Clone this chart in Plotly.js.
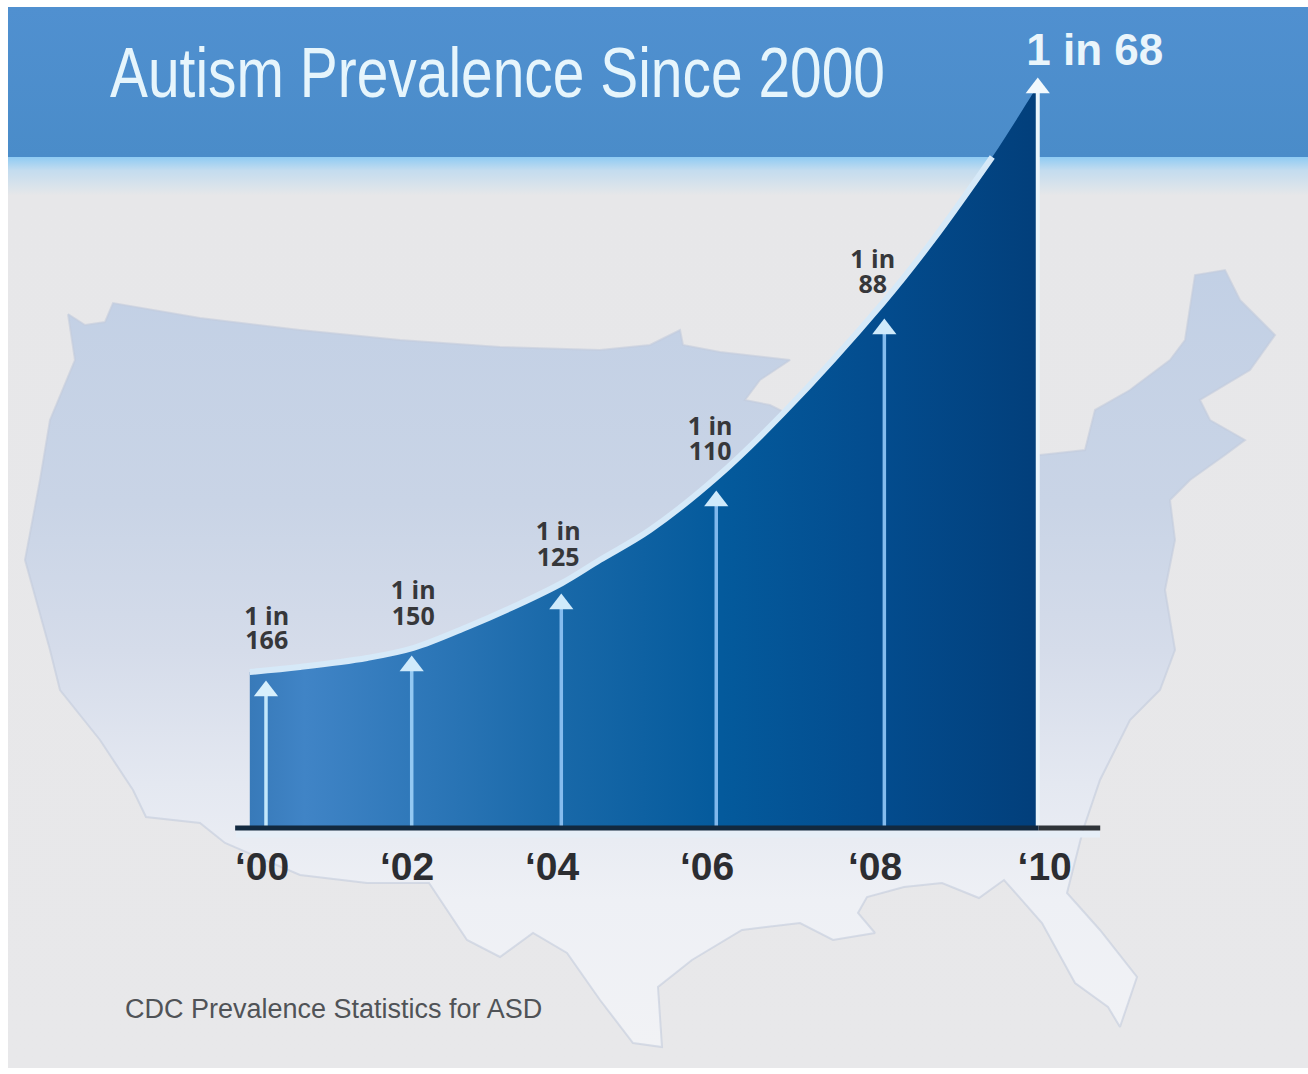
<!DOCTYPE html>
<html><head><meta charset="utf-8">
<script src="https://cdn.plot.ly/plotly-3.0.1.min.js"></script>
<style>html,body{margin:0;padding:0;background:#fff}#c{width:1308px;height:1074px}</style>
</head><body><div id="c"></div>
<script>
// chart data
const titleText = 'Autism Prevalence Since 2000';
const sourceText = 'CDC Prevalence Statistics for ASD';
const tickYears = [1999.95, 2001.83, 2003.71, 2005.72, 2007.9, 2010.1];
const tickLabels = ['‘00','‘02','‘04','‘06','‘08','‘10'];
const curveYears = [1999.79,2000.44,2001.31,2001.91,2002.61,2003.26,2003.84,2004.33,2004.98,2005.85,2006.71,2008.0,2008.65,2009.42,2009.95,2010];
const curveHeights = [155,160,169,179,200,222,244,267,297,350,414,524,587,670,734,740];
const arrowYears = [2000,2001.89,2003.83,2005.84,2008.02,2010.01];
const arrowHeights = [136,161,223,326,498,739];
const arrowColors = ['#c4e8fb','#93c8f2','#86bcee','#80b8ec','#84bcee','#eaf5fb'];
const headColors = ['#d8f0fc','#cfeafb','#cfeafb','#cfeafb','#cfeafb','#f2f9fd'];
const labelYears = [2000.01,2001.91,2003.79,2005.76,2007.87];
const labelLine1 = ['1 in','1 in','1 in','1 in','1 in'];
const labelLine2 = ['166','150','125','110','88'];
const labelLine1Heights = [208,234,293,398,565];
const labelLine2Heights = [184,208,267,373,540];
const topLabel = '1 in 68';
// background map outline
const mapX = [68,85,105,113,200,300,400,500,600,650,680,683,720,790,760,745,770,800,860,1000,1040,1085,1095,1130,1170,1185,1195,1225,1240,1275,1250,1225,1200,1210,1245,1225,1190,1170,1175,1165,1175,1160,1130,1100,1083,1067,1100,1137,1120,1108,1075,1042,1004,979,942,904,867,858,875,833,800,742,692,658,662,633,600,567,533,500,467,429,367,300,225,200,146,133,100,60,50,25,40,50,75,68];
const mapY = [314,325,322,303,318,330,340,347,350,345,330,345,352,360,380,400,405,420,460,460,455,450,410,390,360,340,275,270,300,335,370,385,400,420,440,455,480,500,540,590,650,690,720,780,830,893,930,977,1027,1007,983,923,880,898,883,887,897,913,933,940,923,930,960,987,1047,1043,1000,953,933,957,940,883,883,875,843,823,817,790,740,690,650,560,480,420,360,314];
const frameX = [8,1308,1308,8,8];
const headerY = [7,7,157,157,7];
const bandY = [157,157,195,195,157];
const restY = [195,195,1068,1068,195];
const glowX = [236,1100];
const glowY = [834,834];

const bg = (xs, ys, stops) => ({x:xs, y:ys, xaxis:'x', yaxis:'y', mode:'lines', line:{width:0}, fill:'toself',
  fillgradient:{type:'vertical', colorscale:stops}, hoverinfo:'skip', showlegend:false});

const traces = [
  bg(frameX, restY, [[0,'#e8e8ea'],[1,'#e7e7e9']]),
  bg(frameX, bandY, [[0,'#e6e7e9'],[0.65,'#c3dcef'],[1,'#8fcbf3']]),
  bg(mapX, mapY, [[0,'#f1f2f5'],[0.19,'#eef0f5'],[0.34,'#e4e8f1'],[0.51,'#d5dcea'],[0.7,'#c9d4e6'],[1,'#c2d0e5']]),
  {x:mapX, y:mapY, xaxis:'x', yaxis:'y', mode:'lines', line:{color:'rgba(195,204,220,0.6)', width:2}, hoverinfo:'skip', showlegend:false},
  bg(frameX, headerY, [[0,'#4a8cc9'],[1,'#5090d0']]),
  {x:glowX, y:glowY, xaxis:'x', yaxis:'y', mode:'lines', line:{color:'#e6eef7', width:7}, hoverinfo:'skip', showlegend:false},
  {x:curveYears, y:curveHeights, xaxis:'x2', yaxis:'y2', mode:'lines', line:{width:0, shape:'spline'}, fill:'tozeroy',
   fillgradient:{type:'horizontal', colorscale:[[0,'#387ab9'],[0.07,'#4084c6'],[0.4,'#1868a8'],[0.6,'#045a9c'],[0.8,'#034c8e'],[1,'#023f7b']]},
   hoverinfo:'skip', showlegend:false},
  {x:curveYears.slice(0,14), y:curveHeights.slice(0,14), xaxis:'x2', yaxis:'y2', mode:'lines', line:{color:'#d6e9f8', width:6, shape:'spline'}, hoverinfo:'skip', showlegend:false},
];
arrowYears.forEach((yr,i)=>{
  traces.push({x:[yr,yr], y:[0,arrowHeights[i]], xaxis:'x2', yaxis:'y2', mode:'lines',
    line:{color:arrowColors[i], width:i===5?4:3.5}, hoverinfo:'skip', showlegend:false});
  traces.push({x:[yr], y:[arrowHeights[i]], xaxis:'x2', yaxis:'y2', mode:'markers', cliponaxis:false,
    marker:{symbol:'triangle-up', size:21, color:headColors[i], line:{width:0}}, hoverinfo:'skip', showlegend:false});
});
// baseline
traces.push({x:[1999.6,2010.02], y:[-1,-1], xaxis:'x2', yaxis:'y2', mode:'lines', line:{color:'#12293f', width:5}, hoverinfo:'skip', showlegend:false});
traces.push({x:[2010.02,2010.82], y:[-1,-1], xaxis:'x2', yaxis:'y2', mode:'lines', line:{color:'#2f3338', width:5}, hoverinfo:'skip', showlegend:false});
const labelFont = {family:'"Open Sans"', size:25, color:'#36373a', weight:700};
traces.push({x:labelYears, y:labelLine1Heights, text:labelLine1, xaxis:'x2', yaxis:'y2', mode:'text', textposition:'middle center', textfont:labelFont, hoverinfo:'skip', showlegend:false});
traces.push({x:labelYears, y:labelLine2Heights, text:labelLine2, xaxis:'x2', yaxis:'y2', mode:'text', textposition:'middle center', textfont:labelFont, hoverinfo:'skip', showlegend:false});
traces.push({x:[2010.75], y:[773], text:[topLabel], xaxis:'x2', yaxis:'y2', mode:'text', textposition:'middle center',
  textfont:{family:'"Liberation Sans"', size:44, color:'#eaf5fb', weight:700}, hoverinfo:'skip', showlegend:false});

const layout = {
  width:1308, height:1074, margin:{l:0,r:0,t:0,b:0}, paper_bgcolor:'#ffffff', plot_bgcolor:'rgba(0,0,0,0)', showlegend:false,
  title:{text:titleText, x:110/1308, xanchor:'left', y:1-72/1074, yanchor:'middle', xref:'paper', yref:'paper',
    font:{family:'"Liberation Sans"', size:70, color:'#e6f5fc'}},
  xaxis:{domain:[0,1], range:[0,1308], visible:false, fixedrange:true},
  yaxis:{domain:[0,1], range:[1074,0], visible:false, fixedrange:true},
  xaxis2:{domain:[0,1], range:[1996.55,2013.515], anchor:'y2', tickmode:'array', tickvals:tickYears, ticktext:tickLabels,
    ticks:'outside', ticklen:1, tickcolor:'rgba(0,0,0,0)', showgrid:false, zeroline:false, showline:false,
    tickfont:{family:'"Liberation Sans"', size:39, color:'#2c2d31', weight:700}, fixedrange:true},
  yaxis2:{domain:[1-831/1074,1], range:[-4,827], anchor:'x2', visible:false, fixedrange:true},
  annotations:[{text:sourceText, xref:'paper', yref:'paper', x:123/1308, y:1-1009/1074, xanchor:'left', yanchor:'middle', showarrow:false,
    font:{family:'"Liberation Sans"', size:27, color:'#505357'}}]
};
Plotly.newPlot('c', traces, layout, {displayModeBar:false, staticPlot:true}).then(()=>{
  // the reference title is set in a condensed cut: squeeze the real text to its width
  const t = document.querySelector('.gtitle');
  if (t) { t.setAttribute('textLength','775'); t.setAttribute('lengthAdjust','spacingAndGlyphs'); }
});
</script></body></html>
